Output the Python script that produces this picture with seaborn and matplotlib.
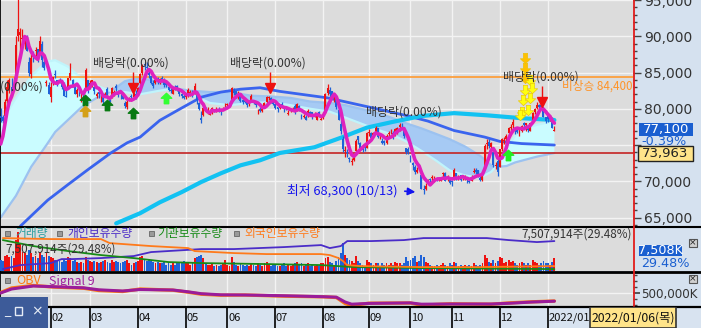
import matplotlib
matplotlib.use('Agg')
import numpy as np
import pandas as pd
import matplotlib.pyplot as plt
from matplotlib.path import Path
from matplotlib.patches import Rectangle
from matplotlib.lines import Line2D
from matplotlib.ticker import FuncFormatter, FixedLocator
import seaborn as sns

sns.set_theme(style='white')
plt.rcParams['font.family'] = ['Noto Sans CJK KR', 'DejaVu Sans']
plt.rcParams['axes.unicode_minus'] = False

# ------------------------------------------------------------------ data
month_labels = ['02', '03', '04', '05', '06', '07', '08', '09', '10', '11', '12', '2022/01']
month_start_idx = [23, 41, 63, 85, 104, 126, 148, 169, 188, 207, 229, 251]

# daily prices in units of 100 won (2020-12-28 .. 2022-01-06)
prior_closes = [730, 723, 739, 778]
opens = [790, 788, 790,
         811, 826, 830, 829, 839, 900, 902, 896, 890, 895, 864, 848, 877, 880, 883, 874, 890, 865, 836, 833,
         816, 838, 848, 839, 840, 839, 830, 818, 830, 842, 839, 832, 820, 821, 816, 822, 827, 840,
         832, 836, 830, 817, 823, 813, 817, 819, 827, 815, 816, 820, 832, 821, 822, 818, 808, 802, 814, 817, 816, 821,
         823, 835, 849, 862, 858, 850, 845, 836, 836, 842, 835, 842, 837, 836, 830, 826, 821, 830, 831, 826, 821, 818,
         816, 818, 821, 825, 822, 822, 808, 787, 792, 801, 796, 792, 795, 800, 797, 800, 799, 801, 805,
         805, 805, 812, 825, 825, 818, 820, 812, 812, 810, 806, 812, 811, 810, 799, 799, 797, 803, 810, 815, 815, 811,
         806, 803, 801, 806, 801, 802, 793, 797, 798, 804, 797, 804, 792, 788, 789, 790, 795, 795, 790, 785, 796, 785,
         787, 795, 822, 826, 824, 815, 814, 798, 779, 759, 742, 740, 732, 727, 730, 742, 762, 753, 745, 748, 746,
         767, 767, 764, 767, 773, 762, 756, 755, 753, 765, 769, 767, 765, 766, 775, 778, 774, 746, 745,
         735, 725, 720, 713, 722, 708, 690, 690, 700, 703, 705, 701, 703, 703, 701, 710, 712, 705, 705,
         700, 705, 711, 706, 708, 705, 705, 703, 700, 700, 713, 716, 715, 705, 702, 720, 751, 754, 747, 740, 721, 728,
         720, 745, 756, 759, 766, 774, 777, 773, 773, 765, 770, 780, 778, 776, 770, 785, 795, 801, 805, 805, 802, 788,
         790, 786, 786, 770]
highs = [801, 792, 813,
         839, 843, 843, 844, 900, 968, 912, 910, 900, 902, 871, 880, 880, 885, 883, 900, 893, 873, 840, 837,
         837, 844, 854, 840, 843, 839, 837, 826, 842, 863, 841, 833, 829, 829, 823, 823, 856, 840,
         840, 840, 831, 823, 823, 819, 820, 823, 830, 818, 830, 826, 834, 826, 823, 821, 811, 812, 816, 820, 823, 826,
         830, 850, 862, 864, 864, 852, 845, 840, 842, 844, 843, 845, 842, 838, 831, 832, 830, 833, 833, 827, 822, 820,
         822, 828, 826, 826, 835, 822, 810, 797, 803, 803, 802, 800, 802, 800, 803, 802, 800, 803, 808,
         808, 810, 830, 829, 825, 824, 822, 814, 815, 811, 811, 820, 812, 810, 800, 803, 804, 809, 818, 818, 816, 812,
         807, 803, 806, 810, 802, 804, 798, 799, 803, 806, 808, 805, 793, 793, 792, 799, 797, 795, 795, 794, 797, 790,
         795, 822, 834, 830, 824, 819, 814, 800, 784, 762, 748, 744, 734, 732, 735, 758, 763, 754, 747, 750, 768,
         772, 768, 768, 776, 773, 766, 760, 757, 765, 770, 772, 770, 774, 775, 780, 780, 775, 746, 747,
         736, 727, 722, 720, 724, 711, 695, 697, 703, 704, 708, 707, 706, 706, 705, 713, 713, 709, 706,
         702, 718, 711, 708, 709, 708, 708, 704, 703, 708, 718, 718, 716, 707, 713, 752, 758, 758, 754, 740, 727, 732,
         745, 760, 761, 765, 775, 779, 786, 775, 775, 772, 778, 782, 780, 776, 781, 796, 801, 809, 806, 806, 803, 788,
         790, 791, 788, 776]
lows = [782, 780, 787,
        808, 822, 821, 825, 837, 893, 870, 890, 883, 880, 845, 843, 865, 870, 865, 874, 857, 853, 832, 820,
        810, 833, 842, 831, 835, 827, 817, 816, 828, 840, 830, 820, 816, 818, 810, 812, 827, 822,
        827, 830, 820, 815, 815, 809, 806, 817, 817, 810, 815, 818, 824, 816, 814, 813, 801, 800, 811, 812, 815, 813,
        820, 834, 846, 853, 853, 842, 834, 829, 834, 834, 834, 837, 830, 830, 824, 822, 820, 826, 825, 818, 815, 813,
        813, 816, 818, 816, 820, 806, 798, 780, 790, 795, 793, 791, 793, 795, 795, 796, 792, 799, 802,
        801, 804, 811, 819, 815, 814, 810, 806, 808, 803, 804, 810, 807, 803, 793, 795, 795, 801, 808, 812, 808, 805,
        799, 796, 799, 803, 795, 798, 791, 795, 797, 793, 797, 797, 786, 787, 784, 789, 791, 786, 788, 784, 789, 784,
        786, 794, 819, 816, 813, 810, 800, 785, 765, 740, 734, 733, 727, 722, 728, 740, 751, 745, 740, 742, 746,
        762, 758, 762, 766, 760, 758, 752, 750, 752, 760, 765, 759, 763, 765, 770, 772, 760, 737, 738,
        726, 716, 710, 712, 716, 689, 683, 688, 697, 699, 701, 699, 700, 700, 700, 706, 700, 701, 696,
        694, 702, 702, 702, 700, 702, 702, 698, 697, 700, 711, 710, 706, 701, 701, 718, 745, 746, 743, 720, 717, 707,
        720, 742, 751, 756, 764, 770, 774, 765, 766, 763, 768, 775, 770, 768, 770, 784, 793, 800, 798, 799, 788, 780,
        782, 783, 774, 769]
closes = [787, 783, 810,
          830, 839, 822, 829, 888, 910, 906, 897, 897, 880, 850, 870, 872, 881, 868, 894, 867, 856, 837, 820,
          830, 844, 846, 835, 835, 830, 817, 816, 842, 849, 832, 821, 826, 820, 816, 820, 853, 825,
          836, 840, 824, 821, 820, 814, 809, 820, 818, 810, 828, 823, 829, 819, 820, 814, 804, 810, 815, 816, 822, 814,
          829, 848, 860, 860, 856, 847, 836, 832, 840, 840, 841, 839, 833, 833, 826, 824, 828, 829, 829, 821, 817, 815,
          817, 826, 823, 819, 832, 812, 800, 785, 801, 796, 796, 795, 801, 797, 799, 798, 796, 801, 805,
          806, 808, 828, 822, 819, 819, 811, 810, 810, 805, 809, 818, 809, 805, 799, 797, 799, 808, 816, 816, 810, 807,
          801, 800, 804, 804, 800, 799, 794, 797, 800, 795, 806, 798, 790, 790, 785, 797, 793, 788, 792, 792, 790, 785,
          793, 821, 829, 821, 815, 815, 802, 785, 770, 744, 742, 739, 731, 727, 733, 756, 757, 746, 743, 746, 767,
          768, 760, 766, 773, 761, 763, 753, 753, 763, 766, 770, 761, 772, 774, 778, 777, 763, 741, 741,
          732, 722, 713, 716, 721, 690, 688, 694, 701, 702, 706, 703, 702, 704, 702, 711, 701, 707, 698,
          699, 715, 704, 706, 702, 706, 705, 702, 699, 706, 714, 713, 707, 702, 712, 749, 753, 748, 753, 723, 723, 713,
          744, 758, 756, 763, 774, 774, 782, 769, 768, 770, 776, 778, 780, 771, 781, 794, 799, 805, 802, 803, 788, 783,
          786, 787, 774, 771]
volumes = [90, 80, 120,
           130, 110, 120, 100, 250, 310, 220, 150, 140, 130, 170, 140, 110, 120, 100, 150, 130, 110, 140, 120,
           110, 100, 90, 80, 80, 70, 90, 80, 110, 100, 80, 90, 70, 60, 70, 60, 110, 90,
           80, 70, 80, 70, 60, 70, 80, 90, 70, 60, 90, 70, 80, 70, 60, 70, 80, 90, 60, 50, 60, 70,
           80, 110, 120, 90, 80, 90, 80, 70, 60, 70, 60, 60, 70, 50, 60, 50, 60, 50, 60, 70, 60, 80,
           70, 60, 50, 60, 100, 110, 120, 130, 100, 60, 50, 50, 60, 40, 50, 40, 50, 60, 90,
           50, 40, 110, 70, 50, 40, 60, 50, 40, 50, 40, 60, 50, 40, 60, 50, 40, 60, 70, 50, 40, 50,
           50, 40, 40, 50, 60, 40, 50, 40, 50, 60, 70, 50, 60, 40, 50, 60, 40, 50, 40, 50, 40, 60,
           60, 100, 110, 70, 60, 50, 80, 110, 140, 220, 130, 100, 90, 80, 60, 120, 80, 60, 50, 40, 90,
           70, 60, 50, 60, 60, 40, 60, 50, 60, 50, 60, 50, 70, 60, 60, 50, 60, 110, 80,
           90, 100, 120, 70, 80, 130, 110, 70, 60, 50, 40, 40, 50, 40, 50, 60, 50, 40, 60,
           50, 70, 60, 40, 50, 40, 50, 40, 50, 40, 60, 50, 40, 50, 60, 130, 100, 70, 60, 90, 60, 80,
           110, 100, 60, 70, 90, 70, 80, 60, 50, 60, 70, 60, 50, 60, 50, 90, 70, 60, 50, 60, 80, 60,
           60, 50, 70, 100]

# cloud (thousand won)
cloud_idx = [0, 7, 14, 21, 25, 31, 37, 44, 50, 57, 64, 73, 80, 87, 96, 105, 115, 124, 133, 142, 151, 158,
             165, 172, 179, 186, 193, 200, 206, 213, 220, 225, 228, 232, 236, 241, 246, 254]
span_a = [78.0, 81.5, 84.5, 86.5, 86.7, 85.8, 84.2, 83.2, 82.5, 82.3, 82.0, 82.5, 82.8, 82.0, 80.8, 80.5,
          80.8, 80.9, 80.5, 80.0, 79.6, 78.8, 78.0, 77.2, 76.5, 75.5, 74.2, 72.8, 71.5, 70.8, 70.5, 71.3,
          72.3, 74.5, 76.3, 77.3, 77.8, 78.3]
span_b = [65.0, 68.0, 72.0, 75.0, 76.8, 78.5, 80.2, 81.5, 82.3, 83.8, 84.3, 83.6, 82.8, 82.5, 82.3, 82.3,
          81.8, 81.7, 81.5, 81.0, 80.8, 80.5, 80.0, 79.5, 78.8, 78.0, 77.3, 76.5, 75.8, 74.8, 73.5, 72.2,
          72.0, 72.1, 72.6, 73.0, 73.4, 73.9]

# long moving averages (thousand won)
ma120_idx = [9, 21.6, 30.7, 40, 50.5, 58, 64, 73, 83, 92, 101, 110, 119, 128, 150, 171, 187, 196, 208, 222, 229, 239, 254]
ma120_val = [63.8, 67.4, 69.5, 71.6, 73.9, 75.3, 76.1, 78.4, 80.1, 81.6, 82.3, 82.7, 82.9, 82.4, 81.5, 80.1,
             79.0, 78.3, 77.0, 76.1, 75.5, 75.2, 75.0]
ma240_idx = [53, 64, 73, 83, 92, 101, 110, 119, 128, 144, 156, 168, 180, 193, 208, 223, 239, 254]
ma240_val = [64.2, 65.6, 67.1, 68.5, 69.9, 71.1, 72.2, 72.9, 73.9, 74.7, 76.0, 77.4, 78.2, 79.0, 79.4, 79.1, 78.7, 78.45]

# holdings (thousand shares)
hold_fgn_idx = [1, 23, 46, 50, 69, 86, 89, 107, 122, 147, 151, 155, 157, 159, 165, 193, 220, 254]
hold_fgn = [8700, 8600, 8600, 8200, 7900, 7700, 7400, 7200, 7100, 7100, 7000, 6700, 6400, 6000, 5900, 5800, 5800, 5900]
hold_ind_idx = [1, 9, 23, 28, 33, 46, 61, 69, 92, 107, 130, 147, 151, 156, 159, 170, 185, 194, 223, 233, 246, 254]
hold_ind = [5600, 6000, 6200, 6600, 6600, 6700, 6900, 7300, 7600, 7600, 7800, 8000, 7700, 7900, 8400, 8400,
            8500, 8700, 8700, 8500, 8300, 8400]
hold_ins_idx = [1, 15, 31, 46, 61, 77, 92, 122, 147, 162, 193, 254]
hold_ins = [8500, 7900, 7400, 7000, 6700, 6300, 6200, 6100, 6000, 5800, 5700, 5600]

# OBV (shown as thousand K)
obv_idx = [0, 5, 15, 24, 38, 45, 56, 64, 79, 86, 92, 101, 112, 131, 148, 154, 158, 161, 169, 188, 193, 206, 225, 234, 244, 254]
obv_val = [505, 550, 575, 560, 548, 525, 515, 540, 528, 508, 488, 478, 480, 468, 462, 455, 395, 375, 398, 400,
           378, 392, 388, 402, 412, 420]
sig_val = [500, 540, 570, 563, 552, 532, 520, 535, 530, 512, 493, 482, 480, 472, 463, 458, 410, 388, 396, 401,
           388, 390, 390, 398, 410, 418]

# signal markers
buy_idx = [38.7, 38.7, 48.8, 60.7, 75.9, 232.7]
buy_price = [81200, 79700, 80500, 79400, 81500, 73600]
buy_color = ['#0a7a14', '#d4a018', '#0a7a14', '#0a7a14', '#33ff33', '#22ee22']
warn_idx = [240.5, 240.5, 240.5, 242.8, 240.5, 243.7, 239.6, 242.8, 239.2, 241.9, 238.2]
warn_price = [87000, 85600, 84200, 84000, 82600, 82900, 81200, 81500, 79600, 79800, 79100]
warn_color = ['#ffc000', '#ffc000', '#ffc000'] + ['#ffff10'] * 8
exdiv_idx = [60.7, 123.6, 248.3]
exdiv_tip = [82900, 82900, 80900]
resist_price = 84400
avg_price = 73963
last_price = 77100
low_idx, low_price = 191.5, 68500

# ------------------------------------------------------------------ layout
W, H = 701, 328
PXW = 633
DX = 2.18
P_TOP, P_PX = 95000, 137.9
XL = (-0.3, -0.3 + PXW / DX)
BG = '#dcdcdc'
GRID = '#f3f3f3'
RED, BLUE = '#ee1111', '#1f62d8'
KR = ['Noto Sans CJK KR', 'DejaVu Sans']

fig = plt.figure(figsize=(W / 100, H / 100), dpi=100)
fig.patch.set_facecolor('#d5e1ef')


def add_ax(x0, y0, w, h):
    return fig.add_axes([x0 / W, 1 - (y0 + h) / H, w / W, h / H])


def fx(x):
    return x / W


def fy(y):
    return 1 - y / H


def frect(x0, y0, x1, y1, **kw):
    fig.add_artist(Rectangle((fx(x0), fy(y1)), (x1 - x0) / W, (y1 - y0) / H,
                             transform=fig.transFigure, **kw))


def ftext(x, y, s, **kw):
    fig.text(fx(x), fy(y), s, **kw)


def P(xp, yp):
    return XL[0] + xp / DX, P_TOP - yp * P_PX


n = len(closes)
idx = np.arange(n)
o = np.array(opens) * 100.0
hi = np.array(highs) * 100.0
lo = np.array(lows) * 100.0
c = np.array(closes) * 100.0
up = c >= o
cols = np.where(up, RED, BLUE)
ma5 = pd.Series(np.r_[prior_closes, closes] * 100.0).rolling(5).mean().to_numpy()[4:]

# ------------------------------------------------------------------ price panel
ax = add_ax(0, 0, PXW, 226)
ax.set_facecolor(BG)
ca = np.array(span_a) * 1000
cb = np.array(span_b) * 1000
ax.fill_between(cloud_idx, ca, cb, where=ca >= cb, interpolate=True, color='#cafcff', lw=0, zorder=1)
ax.fill_between(cloud_idx, ca, cb, where=ca < cb, interpolate=True, color='#a6caf4', lw=0, zorder=1)
sns.lineplot(x=cloud_idx, y=cb, ax=ax, color='#9cc2f0', lw=1.6, zorder=2)
sns.lineplot(x=cloud_idx, y=ca, ax=ax, color='#c0f4fb', lw=1.6, zorder=2)

ax.axhline(resist_price, color='#ff9a30', lw=1.2, zorder=2)
ax.axhline(avg_price, color='#c42424', lw=1.2, zorder=2)

sns.lineplot(x=ma120_idx, y=np.array(ma120_val) * 1000, ax=ax, color='#3a64ee', lw=2.0, zorder=3)
sns.lineplot(x=ma240_idx, y=np.array(ma240_val) * 1000, ax=ax, color='#12c2f2', lw=3.0, zorder=3)

ax.vlines(idx, lo, hi, colors=cols, lw=0.9, zorder=4)
ax.bar(idx, np.maximum(np.abs(c - o), 60), bottom=np.minimum(o, c), width=0.9, color=cols, lw=0, zorder=4)
sns.lineplot(x=idx, y=ma5, ax=ax, color='#de22be', lw=2.6, zorder=5)

up_arrow = Path([(0, 1), (-1, 0.05), (-0.42, 0.05), (-0.42, -1), (0.42, -1), (0.42, 0.05), (1, 0.05), (0, 1)], closed=True)
dn_arrow = Path([(x, -y) for x, y in up_arrow.vertices], closed=True)
for xi, yi, cc in zip(buy_idx, buy_price, buy_color):
    ax.plot([xi], [yi], marker=up_arrow, ms=7.5, color=cc, mec=cc, zorder=6)
for xi, yi, cc in zip(warn_idx, warn_price, warn_color):
    ax.plot([xi], [yi], marker=dn_arrow, ms=7.5, color=cc, mec='#e8c000', mew=0.4, zorder=6)
for xi, yi in zip(exdiv_idx, exdiv_tip):
    ax.vlines(xi, yi + 500, yi + 2200, colors=RED, lw=1.0, zorder=6)
    ax.plot([xi], [yi], marker='v', ms=7, color=RED, zorder=6)

for (xp, yp) in [(93, 63), (230, 63), (366, 112), (503, 77)]:
    ax.text(*P(xp, yp), '배당락(0.00%)', ha='left', va='center', fontsize=8.6, color='#333333',
            family=KR, zorder=7)
ax.text(*P(43, 87), '배당락(0.00%)', ha='right', va='center', fontsize=8.6, color='#333333',
        family=KR, zorder=7, clip_on=True)
ax.text(*P(632, 86), '비상승 84,400', ha='right', va='center', fontsize=8.4, color='#ff9428',
        family=KR, zorder=7)
ax.text(*P(287, 191), '최저 68,300 (10/13)', ha='left', va='center', fontsize=9.2, color='#1414ee',
        family=KR, zorder=7)
ax.annotate('', xy=(low_idx, low_price), xytext=P(402, 191),
            arrowprops=dict(arrowstyle='-|>', color='#1414ee', lw=1.2, mutation_scale=11), zorder=7)

ax.set_xlim(XL)
ax.set_ylim(P_TOP - 226 * P_PX, P_TOP)
ax.set_xticks(month_start_idx)
ax.set_yticks(range(65000, 95001, 5000))
ax.yaxis.set_minor_locator(FixedLocator(list(range(64000, 95001, 1000))))
ax.grid(True, which='major', color=GRID, lw=1)
ax.yaxis.tick_right()
ax.yaxis.set_major_formatter(FuncFormatter(lambda v, p: '' if int(v) == 75000 else f'{int(v):,}'))
ax.tick_params(axis='y', which='major', direction='out', length=6, width=1, color='#444', pad=2,
               labelsize=10, labelcolor='#333', labelfontfamily='DejaVu Sans')
ax.tick_params(axis='y', which='minor', direction='out', length=3, width=1, color='#444')
ax.tick_params(axis='x', length=0, labelbottom=False)
ax.set_xlabel('')
ax.set_ylabel('')
for s in ['top', 'right', 'bottom']:
    ax.spines[s].set_visible(False)
ax.spines['left'].set_color('black')

# ------------------------------------------------------------------ volume panel
axv = add_ax(0, 227, PXW, 44)
axv.set_facecolor(BG)
axv.bar(idx, volumes, width=0.85, color=cols, lw=0, zorder=3)
axv.set_xlim(XL)
axv.set_ylim(0, 350)
axv.set_xticks(month_start_idx)
axv.grid(True, axis='x', color=GRID, lw=1)
axv.set_yticks([30, 125, 220])
axv.yaxis.tick_right()
axv.tick_params(axis='y', length=4, color='#444', labelright=False)
axv.tick_params(axis='x', length=0, labelbottom=False)
for s in ['top', 'right', 'bottom']:
    axv.spines[s].set_visible(False)
axv.spines['left'].set_color('black')

axh = axv.twinx()
sns.lineplot(x=hold_ind_idx, y=hold_ind, ax=axh, color='#4a2cc8', lw=1.3, zorder=4)
sns.lineplot(x=hold_ins_idx, y=hold_ins, ax=axh, color='#178a17', lw=1.3, zorder=4)
sns.lineplot(x=hold_fgn_idx, y=hold_fgn, ax=axh, color='#ff7a1a', lw=1.3, zorder=4)
axh.set_xlim(XL)
axh.set_ylim(5408, 9808)
axh.set_yticks([])
axh.set_ylabel('')
for s in axh.spines.values():
    s.set_visible(False)

# ------------------------------------------------------------------ OBV panel
axo = add_ax(0, 272, PXW, 34)
axo.set_facecolor(BG)
sns.lineplot(x=obv_idx, y=obv_val, ax=axo, color='#ff7a10', lw=2.4, zorder=3)
sns.lineplot(x=obv_idx, y=sig_val, ax=axo, color='#9a1c9a', lw=2.2, zorder=4)
axo.set_xlim(XL)
axo.set_ylim(370, 710)
axo.set_xticks(month_start_idx)
axo.set_yticks([500])
axo.yaxis.set_minor_locator(FixedLocator([380, 440, 560, 620, 680]))
axo.grid(True, which='major', color=GRID, lw=1)
axo.yaxis.tick_right()
axo.yaxis.set_major_formatter(FuncFormatter(lambda v, p: f'{int(v):,},000K'))
axo.tick_params(axis='y', which='major', direction='out', length=5, color='#444', pad=1,
                labelsize=8.6, labelcolor='#333', labelfontfamily='DejaVu Sans')
axo.tick_params(axis='y', which='minor', direction='out', length=3, color='#444')
axo.tick_params(axis='x', length=0, labelbottom=False)
axo.set_xlabel('')
axo.set_ylabel('')
for s in ['top', 'right', 'bottom']:
    axo.spines[s].set_visible(False)
axo.spines['left'].set_color('black')

# ------------------------------------------------------------------ date bar
axd = add_ax(0, 307, W, 21)
axd.set_facecolor('#d8e3f0')
axd.set_xlim(XL[0], XL[0] + W / DX)
axd.set_ylim(0, 1)
for m, lab in zip(month_start_idx, month_labels):
    axd.axvline(m, color='black', lw=1.2)
    axd.text(m + 0.3, 0.48, lab, ha='left', va='center', fontsize=8.0, color='#111', family=KR)
x590 = XL[0] + 590 / DX
x676 = XL[0] + 676 / DX
axd.add_patch(Rectangle((x590, 0.02), x676 - x590, 0.96, fc='#ffe48a', ec='#333', lw=1.2, zorder=5))
axd.text(x590 + 0.8, 0.48, '2022/01/06(목)', ha='left', va='center', fontsize=8.8, color='#111',
         family=KR, zorder=6)
axd.set_xticks([])
axd.set_yticks([])
for s in ['right', 'bottom', 'left']:
    axd.spines[s].set_visible(False)
axd.spines['top'].set_color('black')
axd.spines['top'].set_linewidth(1.6)

# ------------------------------------------------------------------ figure-level decorations
for yy, lw in [(226.5, 1.5), (271.5, 2.0)]:
    fig.add_artist(Line2D([0, 1], [fy(yy)] * 2, color='black', lw=lw, transform=fig.transFigure))
fig.add_artist(Line2D([fx(633.5)] * 2, [fy(306), 1], color='#e21c1c', lw=1.3, transform=fig.transFigure))

# right scale boxes
frect(639, 123, 693, 136, fc='#1a5fd0', ec='none')
ftext(666, 129.5, '77,100', ha='center', va='center', color='white', fontsize=9.5, family='DejaVu Sans')
ftext(641, 141, '-0.39%', ha='left', va='center', color='#1a5fd0', fontsize=9.2, family='DejaVu Sans')
frect(638, 146, 693, 161, fc='#ffe48a', ec='#222', lw=1)
ftext(665.5, 153.5, '73,963', ha='center', va='center', color='#222', fontsize=9.5, family='DejaVu Sans')
frect(639, 245, 682, 256, fc='#1a5fd0', ec='none')
ftext(660.5, 250.5, '7,508K', ha='center', va='center', color='white', fontsize=9.2, family='DejaVu Sans')
ftext(641, 263.5, '29.48%', ha='left', va='center', color='#1a5fd0', fontsize=9.2, family='DejaVu Sans')
for yb in (239, 275):
    frect(689, yb, 697, yb + 8, fc='#d0d0d0', ec='#555', lw=0.8)
    ftext(693, yb + 4, '×', ha='center', va='center', fontsize=6.5, color='#222', family='DejaVu Sans')

# panel headers
for xs in (5, 57, 149, 234):
    frect(xs, 231, xs + 5, 236, fc='#9a9a9a', ec='#666', lw=0.6)
ftext(15, 233.5, '거래량', ha='left', va='center', fontsize=8.5, color='#2aa0a0', family=KR)
ftext(67, 233.5, '개인보유수량', ha='left', va='center', fontsize=8.5, color='#4a2cc8', family=KR)
ftext(157, 233.5, '기관보유수량', ha='left', va='center', fontsize=8.5, color='#178a17', family=KR)
ftext(244, 233.5, '외국인보유수량', ha='left', va='center', fontsize=8.5, color='#ff7a1a', family=KR)
ftext(632, 234.5, '7,507,914주(29.48%)', ha='right', va='center', fontsize=8.4, color='#333', family=KR)
ftext(5, 249, '7,507,914주(29.48%)', ha='left', va='center', fontsize=8.4, color='#333', family=KR)
frect(5, 278, 10, 283, fc='#9a9a9a', ec='#666', lw=0.6)
ftext(16, 281, 'OBV', ha='left', va='center', fontsize=9, color='#ff7a10', family=KR)
ftext(49, 281, 'Signal 9', ha='left', va='center', fontsize=9, color='#a020a0', family=KR)

# window overlay bottom-left
frect(0, 297, 48, 328, fc='#3d5b99', ec='none', zorder=20)
ftext(4, 311, '_', ha='left', va='center', fontsize=9, color='#e6ecf6', family='DejaVu Sans', zorder=21)
frect(15, 307, 22, 315, fc='none', ec='#e6ecf6', lw=1, zorder=21)
ftext(37, 311, '×', ha='center', va='center', fontsize=10, color='#e6ecf6', family='DejaVu Sans', zorder=21)

fig.savefig('out.png', dpi=100, facecolor=fig.get_facecolor())
